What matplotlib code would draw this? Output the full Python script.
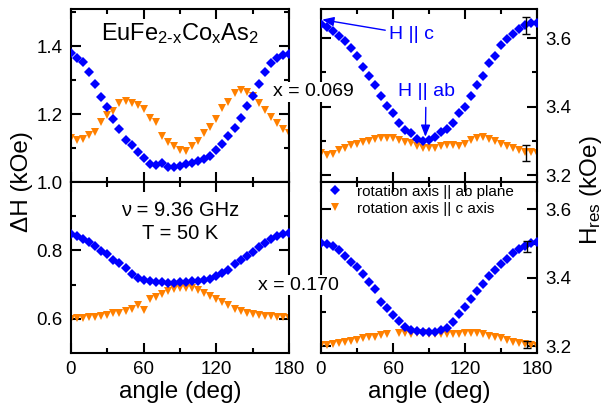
import numpy as np
import matplotlib
matplotlib.use("Agg")
import matplotlib.pyplot as plt

plt.rcParams['font.family'] = ['Liberation Sans', 'DejaVu Sans']
plt.rcParams['mathtext.fontset'] = 'custom'
plt.rcParams['mathtext.rm'] = 'Liberation Sans'
plt.rcParams['mathtext.it'] = 'Liberation Sans'
plt.rcParams['mathtext.bf'] = 'Liberation Sans'

angle = np.arange(0, 181, 5)

# x = 0.069, linewidth (kOe)
dh069_ab = [1.38, 1.365, 1.355, 1.325, 1.29, 1.25, 1.22, 1.185, 1.155, 1.125, 1.11, 1.087,
            1.07, 1.052, 1.05, 1.056, 1.045, 1.043, 1.048, 1.052, 1.057, 1.063, 1.068, 1.078,
            1.093, 1.113, 1.136, 1.16, 1.19, 1.223, 1.255, 1.29, 1.325, 1.35, 1.366, 1.375, 1.378]
dh069_c = [1.13, 1.123, 1.126, 1.138, 1.148, 1.178, 1.198, 1.21, 1.232, 1.238, 1.234, 1.226,
           1.216, 1.19, 1.178, 1.135, 1.118, 1.106, 1.095, 1.09, 1.105, 1.122, 1.145, 1.163,
           1.186, 1.218, 1.236, 1.262, 1.27, 1.266, 1.255, 1.232, 1.213, 1.193, 1.175, 1.155, 1.145]
# x = 0.170, linewidth (kOe)
dh170_ab = [0.848, 0.843, 0.832, 0.824, 0.812, 0.798, 0.79, 0.771, 0.764, 0.748, 0.73, 0.719,
            0.712, 0.71, 0.707, 0.707, 0.705, 0.706, 0.707, 0.708, 0.71, 0.711, 0.713, 0.716,
            0.724, 0.733, 0.744, 0.76, 0.772, 0.783, 0.795, 0.809, 0.821, 0.832, 0.842, 0.849, 0.851]
dh170_c = [0.6, 0.602, 0.602, 0.604, 0.605, 0.607, 0.611, 0.616, 0.618, 0.622, 0.628, 0.64,
           0.626, 0.657, 0.663, 0.672, 0.68, 0.686, 0.689, 0.69, 0.689, 0.684, 0.676, 0.668,
           0.659, 0.649, 0.64, 0.63, 0.623, 0.618, 0.613, 0.61, 0.608, 0.607, 0.605, 0.604, 0.603]
# x = 0.069, resonance field (kOe)
hr069_ab = [3.64, 3.632, 3.622, 3.607, 3.593, 3.571, 3.547, 3.517, 3.488, 3.462, 3.43, 3.403,
            3.38, 3.352, 3.333, 3.322, 3.306, 3.301, 3.302, 3.31, 3.325, 3.335, 3.352, 3.38,
            3.4, 3.43, 3.464, 3.49, 3.527, 3.548, 3.58, 3.597, 3.612, 3.627, 3.638, 3.644, 3.645]
hr069_c = [3.264, 3.258, 3.262, 3.272, 3.279, 3.288, 3.292, 3.297, 3.301, 3.306, 3.308, 3.308,
           3.307, 3.303, 3.298, 3.293, 3.285, 3.28, 3.279, 3.28, 3.284, 3.289, 3.288, 3.284,
           3.29, 3.302, 3.309, 3.31, 3.306, 3.3, 3.292, 3.285, 3.278, 3.272, 3.269, 3.268, 3.264]
# x = 0.170, resonance field (kOe)
hr170_ab = [3.503, 3.5, 3.493, 3.48, 3.463, 3.447, 3.431, 3.41, 3.388, 3.366, 3.33, 3.312,
            3.29, 3.273, 3.256, 3.247, 3.243, 3.242, 3.24, 3.241, 3.247, 3.254, 3.27, 3.293,
            3.314, 3.338, 3.362, 3.382, 3.404, 3.422, 3.44, 3.456, 3.471, 3.484, 3.494, 3.501, 3.506]
hr170_c = [3.203, 3.203, 3.206, 3.209, 3.211, 3.214, 3.218, 3.223, 3.226, 3.227, 3.232, 3.235,
           np.nan, 3.238, 3.239, 3.237, 3.239, 3.238, 3.237, 3.236, 3.236, 3.236, 3.235, 3.237,
           3.239, 3.239, 3.238, 3.235, 3.231, 3.227, 3.223, 3.218, 3.213, 3.21, 3.207, 3.203, 3.2]

# error bars (angle, value, error)
err069_x = [171, 171]
err069_y = [3.637, 3.264]
err069_e = [0.026, 0.024]
err170_x = [172, 172]
err170_y = [3.491, 3.205]
err170_e = [0.016, 0.011]

BLUE = '#0000FF'
ORANGE = '#FF8000'

W, H = 608, 411
fig = plt.figure(figsize=(W / 100, H / 100), dpi=100)

def rect(x0, y0, x1, y1):
    return [x0 / W, 1 - y1 / H, (x1 - x0) / W, (y1 - y0) / H]

ax_tl = fig.add_axes(rect(71, 9, 289, 182))
ax_bl = fig.add_axes(rect(71, 182, 289, 353))
ax_tr = fig.add_axes(rect(321, 9, 537, 182))
ax_br = fig.add_axes(rect(321, 182, 537, 353))

ms_d = 4.7
ms_t = 6.2

def draw(ax, yab, yc):
    ax.plot(angle, yc, ls='none', marker='v', ms=ms_t, mew=0, color=ORANGE,
            label='rotation axis || c axis', zorder=2)
    ax.plot(angle, yab, ls='none', marker='D', ms=ms_d, mew=0, color=BLUE,
            label='rotation axis || ab plane', zorder=3)

draw(ax_tl, dh069_ab, dh069_c)
draw(ax_bl, dh170_ab, dh170_c)
draw(ax_tr, hr069_ab, hr069_c)
draw(ax_br, hr170_ab, hr170_c)

ax_tr.errorbar(err069_x, err069_y, yerr=err069_e, fmt='none', ecolor='black',
               elinewidth=1.0, capsize=3, capthick=1.0, zorder=4)
ax_br.errorbar(err170_x, err170_y, yerr=err170_e, fmt='none', ecolor='black',
               elinewidth=1.0, capsize=3, capthick=1.0, zorder=4)

for ax in (ax_tl, ax_bl, ax_tr, ax_br):
    ax.set_xlim(0, 180)
    ax.set_xticks([0, 60, 120, 180])
    ax.set_xticks([30, 90, 150], minor=True)
    for s in ax.spines.values():
        s.set_linewidth(1.5)
    ax.tick_params(which='both', direction='in', top=True, bottom=True, left=True, right=True,
                   width=1.5, labelsize=13.5)
    ax.tick_params(which='major', length=7, pad=6)
    ax.tick_params(which='minor', length=3.5)

ax_tl.set_ylim(1.0, 1.51)
ax_tl.set_yticks([1.0, 1.2, 1.4])
ax_tl.set_yticks([1.1, 1.3, 1.5], minor=True)
ax_bl.set_ylim(0.5, 1.0)
ax_bl.set_yticks([0.6, 0.8])
ax_bl.set_yticks([0.7, 0.9], minor=True)
for ax in (ax_tr, ax_br):
    ax.set_yticks([3.2, 3.4, 3.6])
    ax.set_yticks([3.3, 3.5], minor=True)
    ax.tick_params(which='both', labelleft=False, labelright=True)
ax_tr.set_ylim(3.18, 3.685)
ax_br.set_ylim(3.18, 3.68)

for ax in (ax_tl, ax_tr):
    ax.tick_params(which='both', labelbottom=False)

for ax in (ax_tl, ax_bl, ax_tr, ax_br):
    ax.yaxis.set_major_formatter(matplotlib.ticker.FormatStrFormatter('%.1f'))

for ax in (ax_bl, ax_br):
    ax.set_xlabel('angle (deg)', fontsize=17.5, labelpad=2)

fig.text(22 / W, 1 - 182 / H, 'ΔH (kOe)', rotation=90, fontsize=17.5,
         ha='center', va='center')
fig.text(591 / W, 1 - 190 / H, r'H$_{\mathregular{res}}$ (kOe)', rotation=90, fontsize=17.5,
         ha='center', va='center')

ax_tl.text(0.5, 0.86, r'EuFe$_{\mathregular{2\text{-}x}}$Co$_{\mathregular{x}}$As$_{\mathregular{2}}$',
           transform=ax_tl.transAxes, fontsize=17, ha='center', va='center')
ax_bl.text(0.5, 0.835, 'ν = 9.36 GHz', transform=ax_bl.transAxes, fontsize=14.5,
           ha='center', va='center')
ax_bl.text(0.5, 0.70, 'T = 50 K', transform=ax_bl.transAxes, fontsize=14.5,
           ha='center', va='center')

fig.text(313 / W, 1 - 92 / H, 'x = 0.069', fontsize=14, ha='center', va='center',
         bbox=dict(facecolor='white', edgecolor='none', pad=1), zorder=10)
fig.text(298 / W, 1 - 285 / H, 'x = 0.170', fontsize=14, ha='center', va='center',
         bbox=dict(facecolor='white', edgecolor='none', pad=1), zorder=10)

ax_tr.annotate('H || c', xy=(1, 3.654), xytext=(57, 3.61), color=BLUE, fontsize=14,
               ha='left', va='center',
               arrowprops=dict(arrowstyle='-|>,head_length=0.5,head_width=0.2', color=BLUE,
                               lw=1.0, shrinkA=1, shrinkB=0))
ax_tr.annotate('H || ab', xy=(87, 3.312), xytext=(87.5, 3.443), color=BLUE, fontsize=14,
               ha='center', va='center',
               arrowprops=dict(arrowstyle='-|>,head_length=0.5,head_width=0.2', color=BLUE,
                               lw=1.0, shrinkA=3, shrinkB=0))

handles, labels = ax_br.get_legend_handles_labels()
ax_br.legend(handles[::-1], labels[::-1], loc='upper left', bbox_to_anchor=(0.03, 0.985),
             frameon=False, fontsize=11, handlelength=1.0, handletextpad=0.9,
             labelspacing=0.2, borderaxespad=0, borderpad=0)

fig.savefig('out.png', dpi=100)
